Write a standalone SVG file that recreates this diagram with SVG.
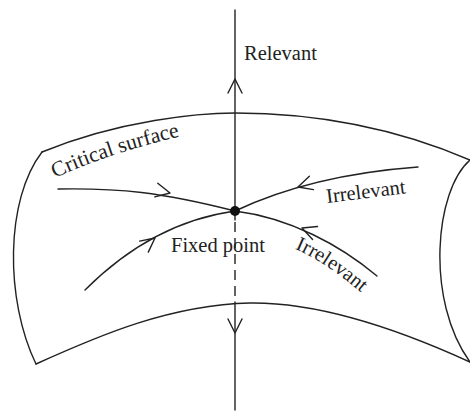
<svg xmlns="http://www.w3.org/2000/svg" xmlns:xlink="http://www.w3.org/1999/xlink" width="470" height="413" viewBox="0 0 470 413">
<style>
.ln{fill:none;stroke:#222;stroke-width:1.4;stroke-linecap:round;stroke-linejoin:round}
.dash{fill:none;stroke:#222;stroke-width:1.4;stroke-dasharray:10 6}
.tx{font-family:"Liberation Serif","Times New Roman",serif;font-size:20.5px;fill:#222}
</style>
<defs>
<path id="chev" d="M-14,-7 L0,0 L-14,7" class="ln"/>
<path id="cpath" d="M55,178 Q112,152 190,134" fill="none"/>
<path id="ipath" d="M295,249 Q327,262 372,302" fill="none"/>
</defs>
<g id="surface">
<path class="ln" d="M42,152 C120,120 200,113 235,113 C320,113 400,130 470,160"/>
<path class="ln" d="M470,160 C435,190 425,300 470,362"/>
<path class="ln" d="M36,364 C100,335 170,305 250,303 C320,302 400,330 470,362"/>
<path class="ln" d="M36,364 C5,300 5,200 42,152"/>
<text class="tx" style="font-size:21.5px"><textPath xlink:href="#cpath">Critical surface</textPath></text>
</g>
<g id="connectors">
<path class="ln" d="M235,10 L235,220"/>
<path class="dash" d="M235,222 L235,302"/>
<path class="ln" d="M235,302 L235,410"/>
<use xlink:href="#chev" transform="translate(235,79) rotate(-90)"/>
<use xlink:href="#chev" transform="translate(235,333) rotate(90)"/>
<path class="ln" d="M58,189 C120,188 160,192 235,211"/>
<use xlink:href="#chev" transform="translate(170,193) rotate(12)"/>
<path class="ln" d="M85,290 C120,255 170,220 235,211"/>
<use xlink:href="#chev" transform="translate(155,238) rotate(-38)"/>
<path class="ln" d="M418,167 C350,172 290,185 235,211"/>
<use xlink:href="#chev" transform="translate(298,187) rotate(163)"/>
<path class="ln" d="M377,276 C340,245 290,218 235,211"/>
<use xlink:href="#chev" transform="translate(302,228) rotate(201)"/>
</g>
<g id="fixed-point">
<circle cx="235" cy="211" r="5" fill="#111"/>
<text class="tx" x="171" y="252">Fixed point</text>
</g>
<g id="relevant">
<text class="tx" x="244" y="60">Relevant</text>
</g>
<g id="irrelevant-1">
<text class="tx" transform="translate(327,203) rotate(-7)">Irrelevant</text>
</g>
<g id="irrelevant-2">
<text class="tx"><textPath xlink:href="#ipath">Irrelevant</textPath></text>
</g>
</svg>
